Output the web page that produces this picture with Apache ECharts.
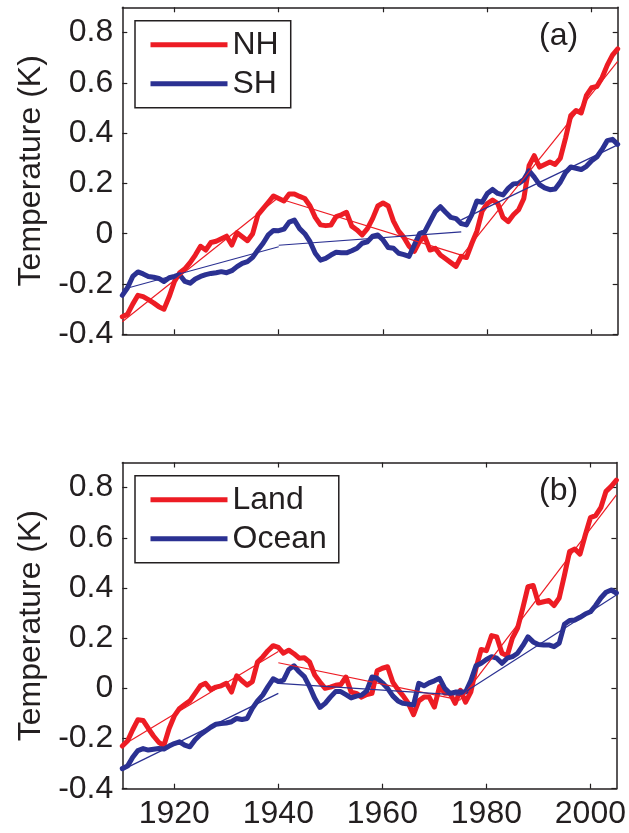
<!DOCTYPE html>
<html>
<head>
<meta charset="utf-8">
<title>Temperature anomalies</title>
<script src="https://cdn.jsdelivr.net/npm/echarts@6/dist/echarts.min.js"></script>
<style>
  html, body { margin: 0; padding: 0; background: #fff; }
  #chart { width: 629px; height: 833px; }
</style>
</head>
<body>
<div id="chart"></div>
<script>
// Annual (smoothed) temperature anomalies, 1910-2005, in K
const startYear = 1910;
const endYear = 2005;

const nh = [
  -0.33, -0.32, -0.28, -0.245, -0.25, -0.262, -0.275, -0.29, -0.30, -0.25,
  -0.19, -0.155, -0.14, -0.115, -0.085, -0.05, -0.065, -0.035, -0.03, -0.02,
  -0.01, -0.045, 0.004, -0.012, -0.028, 0.0, 0.075, 0.10, 0.125, 0.15,
  0.14, 0.13, 0.158, 0.158, 0.148, 0.14, 0.11, 0.065, 0.035, 0.032,
  0.034, 0.068, 0.075, 0.085, 0.03, 0.015, -0.005, 0.02, 0.06, 0.11,
  0.122, 0.11, 0.05, 0.01, -0.015, -0.05, -0.07, -0.03, -0.012, -0.065,
  -0.058, -0.085, -0.10, -0.115, -0.13, -0.09, -0.095, -0.04, 0.01, 0.09,
  0.12, 0.134, 0.12, 0.065, 0.048, 0.075, 0.095, 0.14, 0.27, 0.31,
  0.265, 0.275, 0.285, 0.275, 0.30, 0.38, 0.47, 0.49, 0.48, 0.55,
  0.58, 0.585, 0.62, 0.67, 0.71, 0.735
];

const sh = [
  -0.245, -0.215, -0.17, -0.152, -0.16, -0.17, -0.173, -0.178, -0.19, -0.175,
  -0.17, -0.163, -0.19, -0.197, -0.18, -0.17, -0.163, -0.158, -0.155, -0.151,
  -0.155, -0.147, -0.131, -0.118, -0.111, -0.094, -0.065, -0.038, -0.005, 0.013,
  0.012, 0.018, 0.046, 0.054, 0.02, 0.0, -0.032, -0.078, -0.105, -0.098,
  -0.085, -0.074, -0.076, -0.076, -0.068, -0.058, -0.038, -0.032, -0.01, -0.005,
  -0.025, -0.055, -0.058, -0.078, -0.083, -0.09, -0.045, 0.0, 0.008, 0.048,
  0.087, 0.107, 0.085, 0.065, 0.06, 0.04, 0.035, 0.075, 0.13, 0.125,
  0.16, 0.176, 0.16, 0.154, 0.18, 0.198, 0.2, 0.215, 0.25, 0.225,
  0.195, 0.182, 0.175, 0.178, 0.205, 0.243, 0.265, 0.26, 0.255, 0.268,
  0.29, 0.305, 0.335, 0.37, 0.375, 0.355
];

const land = [
  -0.23, -0.21, -0.165, -0.125, -0.128, -0.16, -0.19, -0.215, -0.228, -0.16,
  -0.11, -0.08, -0.065, -0.05, -0.02, 0.01, 0.02, -0.005, 0.005, 0.01,
  0.02, -0.015, 0.05, 0.03, 0.013, 0.027, 0.105, 0.125, 0.15, 0.17,
  0.163, 0.14, 0.152, 0.138, 0.12, 0.122, 0.105, 0.053, 0.025, 0.0,
  0.005, 0.012, 0.015, 0.045, -0.015, -0.02, -0.035, -0.025, -0.02, 0.07,
  0.08, 0.086, 0.025, -0.005, -0.03, -0.06, -0.105, -0.05, -0.035, -0.035,
  -0.075, 0.007, -0.02, -0.02, -0.06, -0.008, -0.055, -0.015, 0.08, 0.155,
  0.15, 0.21, 0.205, 0.14, 0.13, 0.2, 0.24, 0.32, 0.405, 0.41,
  0.34, 0.345, 0.35, 0.33, 0.36, 0.45, 0.545, 0.555, 0.535, 0.61,
  0.68, 0.688, 0.72, 0.785, 0.805, 0.83
];

const ocean = [
  -0.32, -0.31, -0.275, -0.248, -0.24, -0.246, -0.243, -0.24, -0.242, -0.23,
  -0.22, -0.213, -0.226, -0.233, -0.205, -0.185, -0.17, -0.155, -0.143, -0.14,
  -0.138, -0.133, -0.12, -0.124, -0.12, -0.08, -0.05, -0.027, 0.007, 0.038,
  0.027, 0.033, 0.075, 0.09, 0.066, 0.047, 0.007, -0.04, -0.076, -0.06,
  -0.035, -0.013, -0.013, -0.025, -0.038, -0.031, -0.027, -0.01, 0.045, 0.04,
  0.022, 0.0, -0.03, -0.05, -0.06, -0.063, -0.066, 0.02, 0.01, 0.022,
  0.03, 0.04, 0.0, -0.02, -0.015, -0.015, -0.015, 0.03, 0.09, 0.1,
  0.115, 0.126, 0.12, 0.1, 0.12, 0.126, 0.14, 0.17, 0.205, 0.185,
  0.175, 0.173, 0.173, 0.166, 0.18, 0.255, 0.27, 0.272, 0.283, 0.296,
  0.305, 0.33, 0.36, 0.383, 0.392, 0.38
];

// Piecewise linear trends: [startYear, startValue, endYear, endValue]
const nhTrend = [[1910, -0.35, 1940, 0.145], [1940, 0.14, 1975, -0.085], [1975, -0.09, 2005, 0.685]];
const shTrend = [[1910, -0.222, 1940, -0.052], [1940, -0.046, 1975, 0.007], [1975, 0.055, 2005, 0.353]];
const landTrend = [[1910, -0.228, 1940, 0.147], [1940, 0.102, 1975, -0.047], [1975, -0.045, 2005, 0.771]];
const oceanTrend = [[1910, -0.325, 1940, -0.02], [1940, 0.02, 1975, -0.027], [1975, -0.027, 2005, 0.372]];

const xTicks = [1920, 1940, 1960, 1980, 2000];
const yTicks = [-0.4, -0.2, 0, 0.2, 0.4, 0.6, 0.8];
const panelLabels = ['(a)', '(b)'];

const RED = '#ED1C24';
const BLUE = '#2B3192';
const INK = '#231F20';
const FONT = '"Liberation Sans", Arial, Helvetica, sans-serif';
const FS = 32;

const toPairs = arr => arr.map((v, i) => [startYear + i, v]);

const chart = echarts.init(document.getElementById('chart'), null, { renderer: 'canvas' });

const grids = [
  { left: 122.3, right: 11.3, top: 7.3, height: 327 },
  { left: 122.3, right: 11.3, top: 462.5, height: 326.2 }
];

const xAxes = [];
const yAxes = [];
grids.forEach((g, gi) => {
  const line = { show: true, onZero: false, lineStyle: { color: INK, width: 1.5 } };
  const tick = { show: true, inside: true, length: 5, customValues: xTicks, lineStyle: { color: INK, width: 1.2 } };
  xAxes.push({
    type: 'value', gridIndex: gi, position: 'bottom', min: startYear, max: endYear,
    axisLine: line, axisTick: tick, splitLine: { show: false },
    axisLabel: {
      show: gi === 1, customValues: xTicks, margin: 9,
      fontFamily: FONT, fontSize: FS, color: INK,
      formatter: v => String(v)
    }
  });
  xAxes.push({
    type: 'value', gridIndex: gi, position: 'top', min: startYear, max: endYear,
    axisLine: line, axisTick: tick, splitLine: { show: false }, axisLabel: { show: false }
  });
  const ytick = { show: true, inside: true, length: 5, customValues: yTicks, lineStyle: { color: INK, width: 1.2 } };
  yAxes.push({
    type: 'value', gridIndex: gi, position: 'left', min: -0.4, max: 0.9,
    axisLine: line, axisTick: ytick, splitLine: { show: false },
    axisLabel: {
      customValues: yTicks, margin: 9,
      fontFamily: FONT, fontSize: FS, color: INK,
      formatter: v => String(Math.round(v * 10) / 10)
    },
    name: 'Temperature (K)', nameLocation: 'middle', nameGap: 75,
    nameTextStyle: { fontFamily: FONT, fontSize: FS, color: INK }
  });
  yAxes.push({
    type: 'value', gridIndex: gi, position: 'right', min: -0.4, max: 0.9,
    axisLine: line, axisTick: ytick, splitLine: { show: false }, axisLabel: { show: false }
  });
});

function mainSeries(name, data, color, gi) {
  return {
    type: 'line', name, xAxisIndex: gi * 2, yAxisIndex: gi * 2,
    data: toPairs(data), showSymbol: false, symbol: 'none', smooth: false,
    lineStyle: { color, width: 5, cap: 'round', join: 'round' },
    itemStyle: { color }, z: 3, silent: true, animation: false
  };
}
function trendSeries(segments, color, gi) {
  return segments.map(s => ({
    type: 'line', xAxisIndex: gi * 2, yAxisIndex: gi * 2,
    data: [[s[0], s[1]], [s[2], s[3]]], showSymbol: false, symbol: 'none',
    lineStyle: { color, width: 1.2 }, z: 4, silent: true, animation: false
  }));
}

const series = [
  mainSeries('NH', nh, RED, 0),
  mainSeries('SH', sh, BLUE, 0),
  ...trendSeries(nhTrend, RED, 0),
  ...trendSeries(shTrend, BLUE, 0),
  mainSeries('Land', land, RED, 1),
  mainSeries('Ocean', ocean, BLUE, 1),
  ...trendSeries(landTrend, RED, 1),
  ...trendSeries(oceanTrend, BLUE, 1)
];

function legendFor(names, top) {
  return {
    data: names, orient: 'vertical', left: 135, top,
    icon: 'rect', itemWidth: 77, itemHeight: 5, itemGap: 7, itemTextGap: 7,
    padding: [8, 12, 8, 15.5],
    backgroundColor: '#fff', borderColor: INK, borderWidth: 1.5, borderRadius: 0,
    textStyle: { fontFamily: FONT, fontSize: FS, color: INK, lineHeight: 32 },
    selectedMode: false
  };
}

chart.setOption({
  animation: false,
  backgroundColor: '#fff',
  grid: grids,
  xAxis: xAxes,
  yAxis: yAxes,
  legend: [legendFor(['NH', 'SH'], 20.7), legendFor(['Land', 'Ocean'], 475.7)],
  title: [
    { text: panelLabels[0], left: 539, top: 20, padding: 0,
      textStyle: { fontFamily: FONT, fontSize: FS, fontWeight: 'normal', color: INK } },
    { text: panelLabels[1], left: 539, top: 475, padding: 0,
      textStyle: { fontFamily: FONT, fontSize: FS, fontWeight: 'normal', color: INK } }
  ],
  series
});
</script>
</body>
</html>
